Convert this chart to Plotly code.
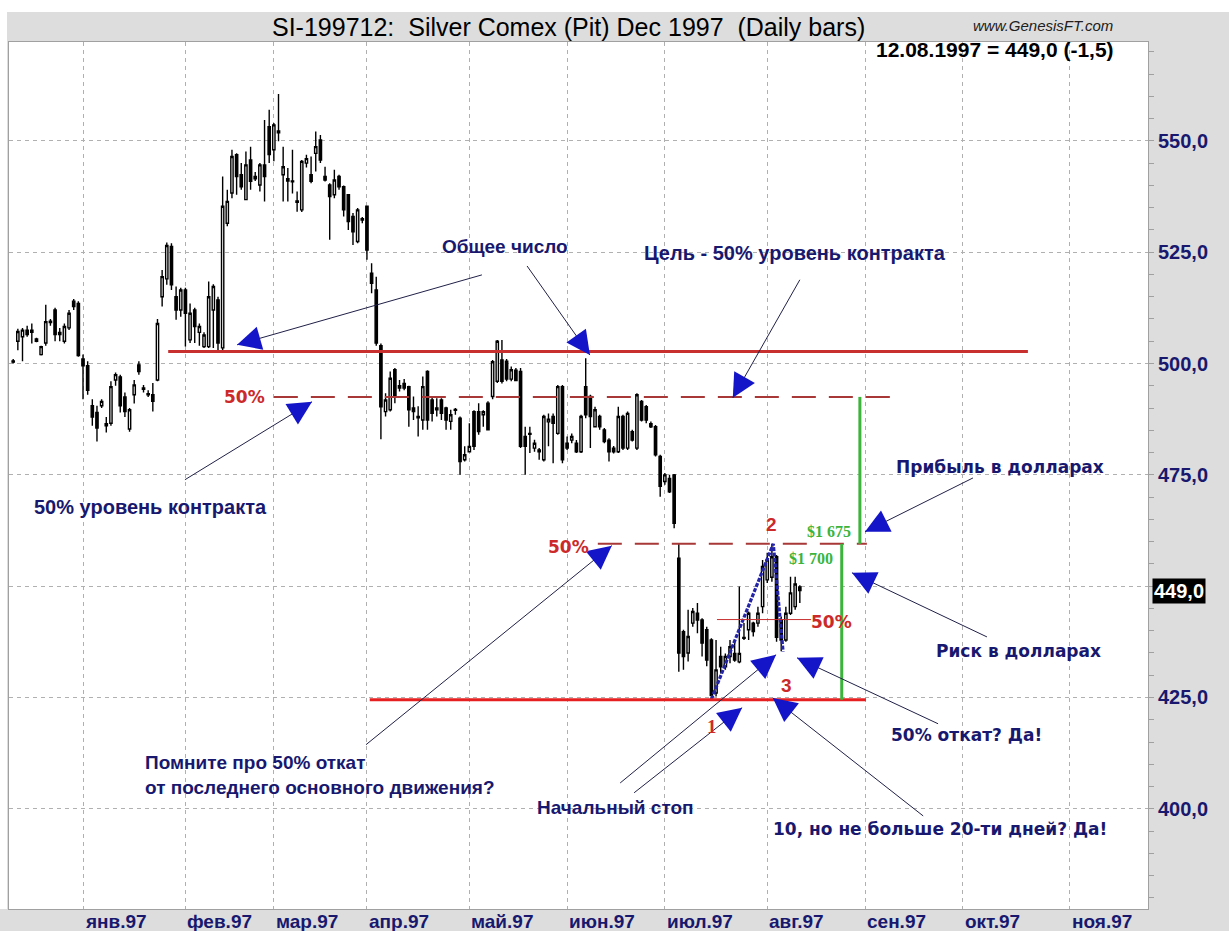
import math
import numpy as np
import plotly.graph_objects as go

# ---------------- data ----------------
# bar index 0 = first trading day of January 1997
first_bar = -15
opens = [500.6, 505.0, 506.0, 507.5, 507.0, 505.5, 502.0, 504.6, 509.5, 512.0, 506.5, 505.0, 508.0, 514.0, 513.5,
         501.0, 499.5, 490.5, 489.0, 490.5, 486.5, 486.6, 496.3, 497.0, 492.5, 485.3, 493.0, 499.7, 494.5, 493.2, 493.0, 496.3,
         515.0, 519.0, 526.3, 515.0, 512.0, 516.5, 505.3, 512.0, 507.0, 503.8, 503.8, 512.0, 514.3, 503.5, 531.5, 538.3,
         546.9, 542.4, 536.8, 545.7, 542.0, 540.1, 544.6, 553.2, 548.0, 552.2, 542.4, 541.5, 541.0, 536.5, 534.5, 545.0,
         542.4, 547.2, 550.2, 542.0, 540.1, 537.9, 542.0, 539.7, 537.9, 533.0, 527.4, 532.2, 535.3, 520.3, 516.5, 504.0,
         489.2, 489.6, 498.6, 494.5, 495.5, 494.8, 490.0, 487.8, 487.3, 498.2, 491.8, 489.6, 491.8, 490.0, 487.0, 489.5,
         487.7, 478.4, 480.2, 489.2, 489.2, 488.5, 491.1, 492.6, 496.0, 500.8, 500.5, 496.5, 498.5, 498.2, 483.6, 484.3,
         481.0, 480.6, 478.4, 486.9, 488.1, 484.3, 494.8, 482.1, 482.8, 482.1, 480.2, 494.8, 492.6, 485.8, 488.1, 485.1,
         482.8, 481.0, 480.2, 488.1, 481.0, 484.7, 481.0, 491.5, 490.3, 486.5, 485.8, 479.1, 473.5, 474.2, 475.0,
         456.3, 439.8, 435.0, 441.7, 443.9, 442.4, 440.2, 437.9, 426.0, 434.2, 431.9, 434.2, 434.9, 433.0, 438.5, 440.2,
         441.7, 441.7, 445.4, 451.4, 452.0, 456.6, 442.4, 437.9, 443.9, 445.4, 449.8]
highs = [501.0, 507.8, 508.0, 508.5, 509.0, 505.8, 504.0, 513.2, 510.0, 512.5, 508.0, 509.0, 512.0, 514.5, 514.0,
         502.0, 500.5, 492.0, 490.5, 492.0, 488.0, 496.0, 498.0, 497.5, 493.5, 490.0, 496.3, 500.5, 495.2, 494.0, 495.6, 510.0,
         521.0, 527.2, 527.0, 517.3, 517.0, 517.0, 513.5, 512.5, 509.0, 507.0, 518.4, 517.8, 515.0, 542.0, 539.0, 548.0,
         547.2, 545.0, 547.6, 548.7, 543.0, 545.0, 554.7, 557.0, 554.0, 560.5, 548.7, 543.9, 548.0, 538.6, 545.7, 546.9,
         546.5, 552.1, 551.3, 544.2, 540.5, 543.5, 542.4, 540.0, 538.0, 533.8, 534.9, 532.9, 535.5, 522.5, 519.5, 504.5,
         493.3, 498.2, 499.0, 496.3, 496.5, 495.0, 492.6, 490.4, 497.1, 498.5, 492.6, 492.2, 492.2, 490.3, 489.6, 490.0,
         488.1, 481.4, 486.6, 489.5, 491.1, 489.5, 491.5, 500.8, 505.3, 505.3, 501.0, 499.3, 499.0, 499.0, 485.8, 485.8,
         482.9, 481.0, 488.5, 488.8, 488.8, 495.2, 495.2, 483.6, 484.3, 482.8, 488.5, 501.2, 493.0, 490.3, 488.5, 485.5,
         483.2, 481.5, 490.3, 488.5, 489.2, 485.1, 493.3, 491.8, 490.7, 487.0, 486.2, 479.5, 475.4, 475.0, 475.2,
         459.5, 440.2, 444.7, 445.1, 446.2, 442.8, 440.9, 438.3, 437.9, 436.4, 434.9, 437.9, 437.9, 449.9, 441.7, 444.3,
         442.0, 445.4, 455.9, 457.5, 459.5, 457.0, 443.2, 445.4, 452.1, 452.1, 450.2]
lows = [500.0, 503.0, 500.5, 506.0, 504.5, 504.8, 501.8, 504.0, 508.5, 505.0, 505.0, 504.5, 507.5, 512.0, 501.5,
        492.0, 493.0, 486.0, 482.5, 490.0, 484.5, 486.0, 495.0, 489.0, 488.0, 484.7, 491.0, 497.5, 493.5, 492.5, 489.2, 496.0,
        512.8, 517.7, 516.5, 509.8, 510.5, 503.8, 504.6, 504.6, 504.0, 503.5, 503.5, 503.5, 503.0, 503.0, 530.8, 537.1,
        537.9, 539.0, 536.8, 539.0, 541.0, 538.6, 536.4, 545.0, 545.4, 549.9, 536.4, 536.4, 538.2, 534.1, 534.0, 544.0,
        540.5, 543.1, 545.0, 540.9, 527.8, 537.1, 539.0, 533.0, 530.0, 526.6, 527.0, 531.5, 523.3, 515.8, 504.0, 483.0,
        488.1, 489.2, 491.1, 493.7, 494.0, 485.8, 487.3, 483.6, 485.1, 485.1, 487.0, 488.1, 487.3, 485.1, 485.1, 488.5,
        475.0, 478.0, 480.0, 480.6, 484.0, 485.8, 485.0, 492.0, 495.6, 495.5, 496.0, 496.0, 496.0, 481.0, 475.0, 479.9,
        480.2, 478.4, 478.0, 481.4, 477.6, 484.0, 477.6, 480.6, 482.1, 479.9, 479.9, 487.7, 481.0, 485.8, 485.1, 482.1,
        478.0, 479.8, 479.9, 480.6, 480.6, 482.5, 480.6, 487.0, 486.6, 485.5, 479.1, 470.1, 472.8, 470.9, 463.0,
        430.8, 431.2, 433.1, 440.9, 439.4, 434.2, 432.0, 424.5, 425.2, 430.4, 431.2, 432.7, 433.0, 432.7, 437.9, 437.9,
        438.7, 440.9, 443.9, 450.7, 451.0, 437.5, 435.4, 437.5, 443.5, 444.7, 446.2]
closes = [500.3, 507.2, 507.5, 506.5, 507.5, 505.0, 503.8, 509.4, 509.2, 506.5, 507.0, 508.3, 511.3, 512.8, 501.8,
          499.5, 494.0, 488.0, 485.5, 491.5, 486.0, 494.8, 497.5, 490.5, 489.2, 489.6, 495.2, 498.2, 494.2, 493.0, 491.5, 509.0,
          519.5, 526.5, 517.7, 512.0, 516.5, 511.3, 511.3, 508.3, 508.3, 506.4, 515.0, 517.3, 504.6, 535.3, 536.4, 546.5,
          542.0, 539.7, 544.6, 540.9, 541.5, 544.6, 542.0, 546.9, 553.6, 551.8, 544.2, 541.0, 540.8, 536.2, 545.4, 546.0,
          540.9, 548.7, 545.7, 541.2, 537.5, 541.2, 539.7, 534.5, 531.9, 529.6, 534.5, 532.5, 525.5, 518.0, 504.6, 490.3,
          491.8, 496.7, 492.6, 495.0, 494.5, 489.6, 489.2, 488.1, 494.8, 487.3, 488.8, 490.0, 488.8, 487.3, 488.5, 489.7,
          478.0, 479.5, 481.4, 481.4, 484.7, 489.2, 485.1, 500.4, 505.0, 496.0, 496.5, 498.6, 496.2, 481.4, 481.4, 484.1,
          482.1, 480.2, 488.1, 487.5, 486.6, 494.8, 478.4, 481.0, 483.6, 480.2, 488.1, 488.5, 488.1, 489.6, 485.8, 482.5,
          480.2, 480.2, 488.1, 481.0, 488.8, 482.8, 493.0, 487.3, 487.3, 485.8, 479.5, 472.4, 475.0, 471.2, 464.1,
          435.0, 434.2, 438.7, 444.3, 442.4, 437.2, 433.4, 425.5, 431.2, 431.9, 434.2, 436.4, 433.4, 434.9, 438.3, 443.9,
          439.8, 443.9, 454.4, 455.9, 456.6, 438.5, 437.9, 443.9, 448.5, 450.5, 449.0]

month_start_bar = [0, 22, 41, 61, 83, 104, 125, 147, 168, 189, 212]
month_labels = ["янв.97", "фев.97", "мар.97", "апр.97", "май.97", "июн.97",
                "июл.97", "авг.97", "сен.97", "окт.97", "ноя.97"]
price_ticks = [400, 425, 450, 475, 500, 525, 550]
last_close = 449.0

# key levels of the study
common_level = 502.7      # "Общее число"
contract_mid = 492.5      # 50% of contract range
swing_mid = 459.5         # 50% retracement level / swing high 2
stop_level = 424.5        # swing low 1 / initial stop
small_mid = 442.5         # 50% of swing 1-2
swing_x = [135, 148.3, 150.4]
swing_y = [424.6, 459.5, 435.3]

# ---------------- figure ----------------
n = len(opens)
bars = np.arange(first_bar, first_bar + n)

XR = [-15.9, 228.8]
YR = [377.5, 572.2]
L_M, R_M, T_M, B_M = 9, 81, 42, 22
W, H = 1229, 931
PW, PH = W - L_M - R_M, H - T_M - B_M
kx = PW / (XR[1] - XR[0])
ky = PH / (YR[1] - YR[0])

NAVY = "#18186e"
BLUE = "#1414c8"
RED = "#cc2a2a"
DRED = "#a83838"
GREEN = "#3cb43c"
LINE = "#202048"
ARIAL = "Liberation Sans, Arial, sans-serif"
WIDE = "DejaVu Sans, Verdana, sans-serif"

fig = go.Figure()
fig.add_trace(go.Candlestick(
    x=bars, open=opens, high=highs, low=lows, close=closes,
    increasing=dict(fillcolor="white", line=dict(color="black", width=1.4)),
    decreasing=dict(fillcolor="black", line=dict(color="black", width=1.4)),
    whiskerwidth=0, showlegend=False, hoverinfo="skip"))

fig.add_trace(go.Scatter(x=swing_x, y=swing_y, mode="lines",
                         line=dict(color="#2424a8", width=3.2, dash="4px,1.5px"),
                         showlegend=False, hoverinfo="skip"))

shapes = []
annots = []

def hline(x0, x1, y, color, width, dash="solid"):
    shapes.append(dict(type="line", xref="x", yref="y", x0=x0, x1=x1, y0=y, y1=y,
                       line=dict(color=color, width=width, dash=dash)))

def vline(x, y0, y1, color, width):
    shapes.append(dict(type="line", xref="x", yref="y", x0=x, x1=x, y0=y0, y1=y1,
                       line=dict(color=color, width=width)))

hline(18.3, 203, common_level, "#c83030", 3)
hline(41, 174, contract_mid, DRED, 2, "24px,13px")
hline(110.6, 168.4, swing_mid, DRED, 2, "24px,13px")
hline(61.6, 168.2, stop_level, "#e62020", 3)
hline(136.2, 156.4, small_mid, "#c83030", 1)
vline(166.9, contract_mid, swing_mid, GREEN, 3)
vline(163.0, swing_mid, stop_level, GREEN, 3)

def arrow(tail, tip):
    shapes.append(dict(type="line", xref="x", yref="y", x0=tail[0], y0=tail[1],
                       x1=tip[0], y1=tip[1], line=dict(color=LINE, width=1)))
    dx = (tail[0] - tip[0]) * kx
    dy = -(tail[1] - tip[1]) * ky
    d = math.hypot(dx, dy)
    L = 17
    annots.append(dict(x=tip[0], y=tip[1], xref="x", yref="y", ax=dx / d * L, ay=dy / d * L,
                       text="", showarrow=True, arrowhead=2, arrowsize=1.7, arrowwidth=2.8,
                       arrowcolor=BLUE))

arrow((85.7, 519.9), (33.1, 504.2))
arrow((95.4, 521.9), (108.9, 501.9))
arrow((154.0, 518.8), (139.6, 492.3))
arrow((21.9, 473.9), (49.2, 491.4))
arrow((60.8, 414.4), (113.6, 459.1))
arrow((115.4, 405.8), (148.9, 434.6))
arrow((118.4, 403.6), (141.6, 422.7))
arrow((191.2, 474.3), (168.0, 462.2))
arrow((194.2, 438.6), (165.2, 453.0))
arrow((183.7, 419.1), (153.4, 433.9))
arrow((180.5, 398.4), (148.2, 424.9))

def text(x, y, s, size, color=NAVY, family=ARIAL, bold=True, xanchor="center", align="center"):
    annots.append(dict(x=x, y=y, xref="x", yref="y", text=(f"<b>{s}</b>" if bold else s),
                       showarrow=False, xanchor=xanchor, yanchor="middle", align=align,
                       font=dict(size=size, color=color, family=family)))

text(90.7, 526.2, "Общее число", 19)
text(153.0, 524.8, "Цель - 50% уровень контракта", 20)
text(14.6, 467.8, "50% уровень контракта", 20)
text(197.0, 476.8, "Прибыль в долларах", 17, family=WIDE)
text(201.0, 435.5, "Риск в долларах", 17, family=WIDE)
text(189.9, 416.6, "50% откат? Да!", 17, family=WIDE)
text(184.1, 395.5, "10, но не больше 20-ти дней? Да!", 17, family=WIDE)
text(12.9, 407.6, "Помните про 50% откат<br>от последнего основного движения?", 19,
     xanchor="left", align="left")
text(114.3, 400.4, "Начальный стоп", 19)
text(34.8, 492.5, "50%", 17, color=RED, family=WIDE)
text(104.4, 458.8, "50%", 17, color=RED, family=WIDE)
text(160.9, 442.0, "50%", 17, color=RED, family=WIDE)
text(135.1, 418.4, "1", 19, color=RED, family="Liberation Serif, serif")
text(148.0, 463.8, "2", 19, color=RED)
text(151.2, 427.6, "3", 19, color=RED)
text(160.3, 462.2, "$1 675", 16, color=GREEN, family="Liberation Serif, serif")
text(156.4, 456.1, "$1 700", 16, color=GREEN, family="Liberation Serif, serif")

# month labels, left-aligned on their gridlines
for b, lab in zip(month_start_bar, month_labels):
    annots.append(dict(x=b, y=0, xref="x", yref="paper", yshift=-12, text=f"<b>{lab}</b>",
                       showarrow=False, xanchor="left", yanchor="middle",
                       font=dict(size=19, color=NAVY, family=ARIAL)))

# title bar texts
annots.append(dict(x=(568 - L_M) / PW, y=1 + 15 / PH, xref="paper", yref="paper",
                   text="SI-199712:\u00a0\u00a0Silver Comex (Pit) Dec 1997\u00a0\u00a0(Daily bars)",
                   showarrow=False, xanchor="center", yanchor="middle",
                   font=dict(size=25, color="black", family=ARIAL)))
annots.append(dict(x=(1043 - L_M) / PW, y=1 + 17 / PH, xref="paper", yref="paper",
                   text="<i>www.GenesisFT.com</i>", showarrow=False, xanchor="center",
                   yanchor="middle", font=dict(size=15, color="#202020", family=ARIAL)))
annots.append(dict(x=(995 - L_M) / PW, y=1 - 8 / PH, xref="paper", yref="paper",
                   text="<b>12.08.1997 = 449,0 (-1,5)</b>", showarrow=False, xanchor="center",
                   yanchor="middle", font=dict(size=21, color="black", family=ARIAL)))
# last price box (it sits on the 450 level, whose label it hides)
annots.append(dict(x=1, y=last_close, xref="paper", yref="y", xanchor="left", xshift=4,
                   text="<b>449,0</b>", showarrow=False, bgcolor="black", borderpad=1,
                   font=dict(size=20, color="white", family=ARIAL)))

# white outer margins (top and left)
shapes.append(dict(type="rect", xref="paper", yref="paper", x0=-0.02, x1=1.1,
                   y0=1 + 30 / PH, y1=1 + 50 / PH, fillcolor="white", line=dict(width=0), layer="below"))
shapes.append(dict(type="rect", xref="paper", yref="paper", x0=-L_M / PW - 0.001, x1=-2 / PW,
                   y0=0, y1=1 + 50 / PH, fillcolor="white", line=dict(width=0), layer="below"))

tick_text = [("" if v == 450 else f"{v},0") for v in price_ticks]

fig.update_layout(
    width=W, height=H,
    margin=dict(l=L_M, r=R_M, t=T_M, b=B_M, pad=0),
    paper_bgcolor="#dddddd", plot_bgcolor="white",
    shapes=shapes, annotations=annots,
    showlegend=False,
    xaxis=dict(range=XR, tickmode="array", tickvals=month_start_bar, showticklabels=False,
               ticks="", showgrid=True, gridcolor="#b0b0b0", griddash="4px,4px", gridwidth=1,
               showline=True, mirror=True, linecolor="#a0a0a0", linewidth=1,
               zeroline=False, rangeslider=dict(visible=False), fixedrange=True),
    yaxis=dict(range=YR, side="right", tickmode="array", tickvals=price_ticks,
               ticktext=tick_text,
               tickfont=dict(size=20, color=NAVY, family=ARIAL, weight="bold"),
               ticks="outside", ticklen=5, tickcolor="#a0a0a0",
               minor=dict(tickmode="array", tickvals=list(range(380, 571, 5)), ticks="outside",
                          ticklen=5, tickcolor="#a0a0a0", showgrid=False),
               showgrid=True, gridcolor="#b0b0b0", griddash="4px,4px", gridwidth=1,
               showline=True, mirror=True, linecolor="#a0a0a0", linewidth=1,
               zeroline=False, fixedrange=True),
)

fig.write_html("out.html", config={"displayModeBar": False},
               post_script="document.body.style.margin='0px';")
